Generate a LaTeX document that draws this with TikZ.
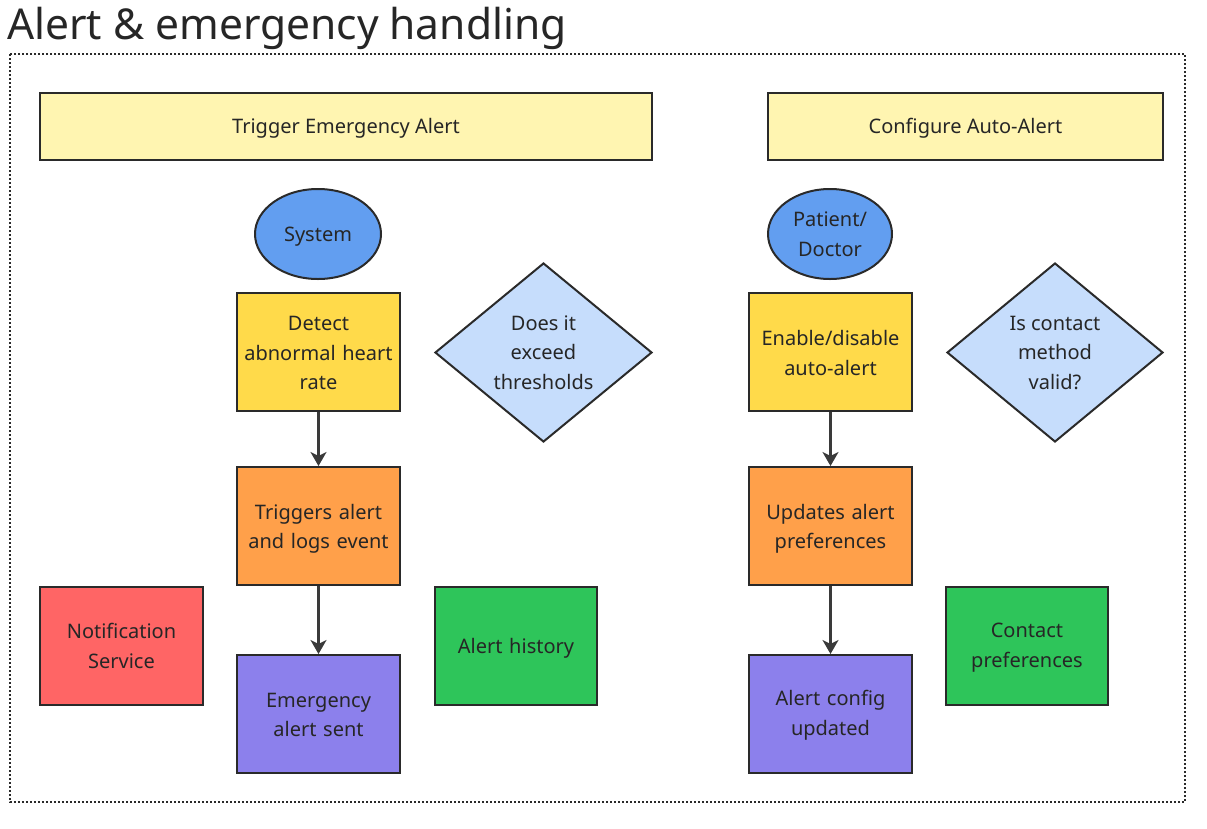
\documentclass[tikz,border=0pt]{standalone}
\usepackage{fontspec}
\setmainfont{Noto Sans}
\usetikzlibrary{arrows.meta,shapes.geometric}
\definecolor{hdr}{HTML}{FFF5B1}
\definecolor{actor}{HTML}{629EF0}
\definecolor{stepy}{HTML}{FFDA4A}
\definecolor{dec}{HTML}{C6DDFC}
\definecolor{proc}{HTML}{FFA04A}
\definecolor{svc}{HTML}{FF6565}
\definecolor{outc}{HTML}{8C80EC}
\definecolor{data}{HTML}{2EC55A}
\definecolor{edge}{HTML}{2A2A2A}
\definecolor{arr}{HTML}{3A3A3A}
\newcommand{\lowtxt}[3]{\parbox{#1}{\centering\vspace*{#2}#3}}
\tikzset{
  base/.style={draw=edge, line width=2pt, align=center, text=black!85, font=\fontsize{20}{29.5}\selectfont, inner sep=0pt},
  hdrbox/.style={base, fill=hdr, minimum height=67pt},
  boxy/.style={base, minimum width=163pt, minimum height=118pt, text width=160pt},
  actorell/.style={base, ellipse, fill=actor},
  decbox/.style={base, diamond, fill=dec},
  flow/.style={draw=arr, line width=2.2pt, -{Stealth[length=14pt,width=16pt,inset=4pt]}}
}
\begin{document}
\begin{tikzpicture}[x=1pt,y=-1pt]
\useasboundingbox (0,0) rectangle (1207,828);
\node[anchor=base west, font=\fontsize{42.5}{50}\selectfont, text=black!85, inner sep=0pt] (title) at (7,39) {Alert \& emergency handling};
\draw[edge, line width=2.2pt, dash pattern=on 2pt off 2pt] (10,54) rectangle (1185,802);
% headers
\node[hdrbox, minimum width=612pt] (h1) at (346,126.5) {\lowtxt{300pt}{4pt}{Trigger Emergency Alert}};
\node[hdrbox, minimum width=395pt] (h2) at (965.5,126.5) {\lowtxt{300pt}{4pt}{Configure Auto-Alert}};
% left column
\node[actorell, minimum width=126pt, minimum height=90pt] (sys) at (318,234) {\lowtxt{75pt}{5pt}{System}};
\node[boxy, fill=stepy] (detect) at (318.5,352) {\lowtxt{160pt}{2pt}{Detect\\abnormal heart\\rate}};
\node[decbox, minimum width=217pt, minimum height=179pt, aspect=1.2] (d1) at (543.5,352.5) {Does it\\exceed\\thresholds};
\node[boxy, fill=proc] (trig) at (318.5,526) {\lowtxt{160pt}{6pt}{Triggers alert\\and logs event}};
\node[boxy, fill=svc] (notif) at (121.5,646) {Notification\\Service};
\node[boxy, fill=outc] (sent) at (318.5,714) {\lowtxt{160pt}{2pt}{Emergency\\alert sent}};
\node[boxy, fill=data, minimum width=162pt] (hist) at (516,646) {\lowtxt{158pt}{5pt}{Alert history}};
% right column
\node[actorell, minimum width=124pt, minimum height=90pt] (pd) at (830,234) {Patient/\\Doctor};
\node[boxy, fill=stepy] (enable) at (830.5,352) {\lowtxt{160pt}{2pt}{Enable/disable\\auto-alert}};
\node[decbox, minimum width=216pt, minimum height=179pt, aspect=1.2] (d2) at (1055,352.5) {Is contact\\method\\valid?};
\node[boxy, fill=proc] (upd) at (830.5,526) {\lowtxt{160pt}{6pt}{Updates alert\\preferences}};
\node[boxy, fill=data, minimum width=162pt] (contact) at (1027,646) {\lowtxt{158pt}{3pt}{Contact\\preferences}};
\node[boxy, fill=outc] (cfg) at (830.5,714) {\lowtxt{160pt}{2pt}{Alert config\\updated}};
% connectors
\draw[flow] (detect) -- (trig);
\draw[flow] (trig) -- (sent);
\draw[flow] (enable) -- (upd);
\draw[flow] (upd) -- (cfg);
\end{tikzpicture}
\end{document}
